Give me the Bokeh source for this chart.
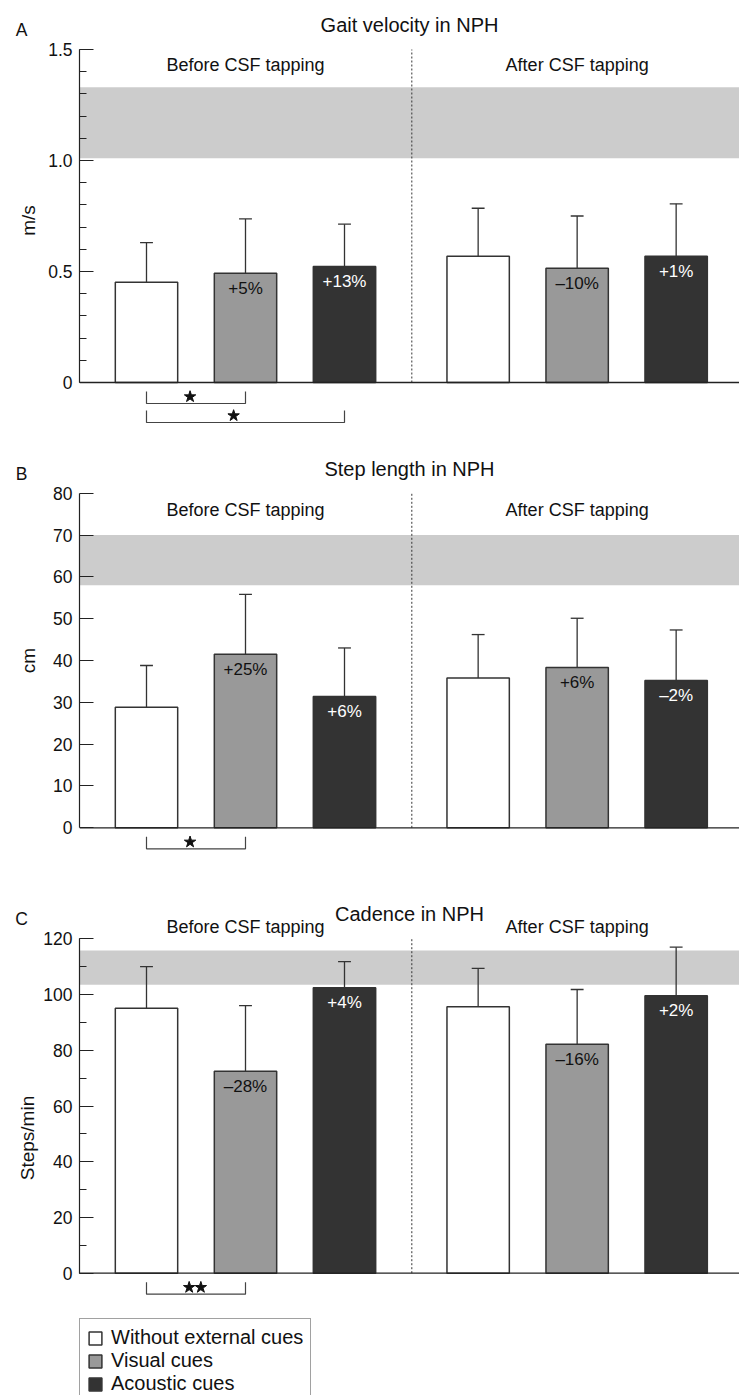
import numpy as np
from bokeh.plotting import figure
from bokeh.layouts import column
from bokeh.models import Range1d, FixedTicker, Label, Legend, LegendItem, ColumnDataSource
from bokeh.embed import file_html
from bokeh.resources import INLINE
from bokeh.core.properties import value

# ---------------- data ----------------
conditions = ["Without external cues", "Visual cues", "Acoustic cues"]
phases = ["Before CSF tapping", "After CSF tapping"]
bar_colors = ["#ffffff", "#999999", "#333333"]
label_colors = ["#111111", "#111111", "#ffffff"]

velocity_mean = [0.452, 0.492, 0.523, 0.569, 0.515, 0.569]
velocity_sd = [0.178, 0.245, 0.190, 0.216, 0.235, 0.236]
velocity_change = ["", "+5%", "+13%", "", "–10%", "+1%"]
velocity_normal = [1.01, 1.33]
velocity_sig = [(0, 1, 1), (0, 2, 1)]

step_mean = [28.8, 41.5, 31.4, 35.8, 38.3, 35.2]
step_sd = [10.0, 14.3, 11.6, 10.4, 11.8, 12.1]
step_change = ["", "+25%", "+6%", "", "+6%", "–2%"]
step_normal = [58, 70]
step_sig = [(0, 1, 1)]

cadence_mean = [95.1, 72.5, 102.4, 95.6, 82.2, 99.6]
cadence_sd = [14.9, 23.5, 9.4, 13.8, 19.6, 17.4]
cadence_change = ["", "–28%", "+4%", "", "–16%", "+2%"]
cadence_normal = [103.5, 115.8]
cadence_sig = [(0, 1, 2)]

# ---------------- layout ----------------
FONT = "Liberation Sans"
W = 739
LEFT = 79
bar_x = [1, 2, 3, 4.35, 5.35, 6.35]
divider_x = 3.68
BAR_W = 0.63
PX_PER_X = 99.0
X0 = 1 - (146 - LEFT) / PX_PER_X
X1 = X0 + (W - LEFT) / PX_PER_X

panels = [
    dict(letter="A", title="Gait velocity in NPH", ylabel="m/s",
         mean=velocity_mean, sd=velocity_sd, change=velocity_change,
         normal=velocity_normal, sig=velocity_sig, ymax=1.5,
         majors=[0, 0.5, 1.0, 1.5], minors=[round(0.1 * i, 2) for i in range(16)],
         overrides={0: "0", 0.5: "0.5", 1: "1.0", 1.5: "1.5"},
         H=440, top=49, zero=382, lab_standoff=6, sub_dy=-15, legend=False),
    dict(letter="B", title="Step length in NPH", ylabel="cm",
         mean=step_mean, sd=step_sd, change=step_change,
         normal=step_normal, sig=step_sig, ymax=80,
         majors=list(range(0, 81, 10)), minors=[],
         overrides={},
         H=440, top=52.7, zero=387.3, lab_standoff=11, sub_dy=-17, legend=False),
    dict(letter="C", title="Cadence in NPH", ylabel="Steps/min",
         mean=cadence_mean, sd=cadence_sd, change=cadence_change,
         normal=cadence_normal, sig=cadence_sig, ymax=120,
         majors=list(range(0, 121, 20)), minors=list(range(0, 121, 10)),
         overrides={},
         H=515, top=58.3, zero=392.7, lab_standoff=2, sub_dy=12, legend=True),
]

figs = []
for cfg in panels:
    H = cfg["H"]
    ymax = cfg["ymax"]
    ppu = (cfg["zero"] - cfg["top"]) / ymax
    y0 = -(H - cfg["zero"]) / ppu
    y1 = cfg["zero"] / ppu
    p = figure(width=W, height=H, x_range=Range1d(X0, X1), y_range=Range1d(y0, y1),
               output_backend="svg", toolbar_location=None, x_axis_location=None,
               min_border_left=LEFT, min_border_right=0, min_border_top=0,
               min_border_bottom=0)
    p.grid.visible = False
    p.outline_line_color = None
    p.background_fill_color = "white"
    p.border_fill_color = "white"

    ax = p.yaxis[0]
    ax.bounds = (0, ymax)
    ax.ticker = FixedTicker(ticks=cfg["majors"], minor_ticks=cfg["minors"])
    if cfg["overrides"]:
        ax.major_label_overrides = cfg["overrides"]
    ax.major_tick_in = 14
    ax.major_tick_out = 0
    ax.minor_tick_in = 7
    ax.minor_tick_out = 0
    ax.axis_line_color = "#222222"
    ax.major_tick_line_color = "#222222"
    ax.minor_tick_line_color = "#222222"
    ax.axis_line_width = 1.2
    ax.major_label_standoff = 7
    ax.major_label_text_font = FONT
    ax.major_label_text_font_size = "17.5px"
    ax.major_label_text_color = "#111111"
    ax.axis_label = cfg["ylabel"]
    ax.axis_label_text_font = FONT
    ax.axis_label_text_font_size = "19px"
    ax.axis_label_text_font_style = "normal"
    ax.axis_label_text_color = "#111111"
    ax.axis_label_standoff = cfg["lab_standoff"]

    # normal range band
    lo, hi = cfg["normal"]
    p.quad(left=[X0], right=[X1], bottom=[lo], top=[hi], fill_color="#cccccc",
           line_color=None)

    # divider
    p.segment(x0=[divider_x], y0=[0], x1=[divider_x], y1=[ymax], line_color="#333333",
              line_width=1, line_dash="2 2")

    mean = cfg["mean"]
    sd = cfg["sd"]
    tops = [m + s for m, s in zip(mean, sd)]
    src = ColumnDataSource(dict(x=bar_x, top=mean, color=bar_colors * 2,
                                err=tops, change=cfg["change"],
                                tcolor=label_colors * 2,
                                ty=[m - 15 / ppu for m in mean],
                                cl=[x - 0.065 for x in bar_x],
                                cr=[x + 0.065 for x in bar_x]))
    # error bars
    p.segment(x0="x", y0="top", x1="x", y1="err", source=src, line_color="#333333",
              line_width=1.3)
    p.segment(x0="cl", y0="err", x1="cr", y1="err", source=src, line_color="#333333",
              line_width=1.3)
    bars = p.vbar(x="x", top="top", bottom=0, width=BAR_W, source=src,
                  fill_color="color", line_color="#333333", line_width=1.5)
    p.text(x="x", y="ty", text="change", source=src, text_color="tcolor",
           text_font=value(FONT), text_font_size="17px", text_align="center",
           text_baseline="middle")

    # baseline
    p.segment(x0=[X0], y0=[0], x1=[X1], y1=[0], line_color="#222222", line_width=1.3)

    # significance brackets
    level_px = [21, 40]
    for k, (a, b, nstar) in enumerate(cfg["sig"]):
        xa, xb = bar_x[a], bar_x[b]
        yl = -level_px[k] / ppu
        yt = yl + 12 / ppu
        p.multi_line(xs=[[xa, xa, xb, xb]], ys=[[yt, yl, yl, yt]], line_color="#444444",
                     line_width=1.2)
        cx = xa + 0.44 * (xb - xa) + 0.05 * (nstar - 1)
        sx = [cx + 0.118 * (i - (nstar - 1) / 2) for i in range(nstar)]
        p.scatter(x=sx, y=[yl + 6.8 / ppu] * nstar, marker="star", size=12,
                  fill_color="#111111", line_color="#111111")

    # titles
    p.text(x=[(X0 + X1) / 2], y=[ymax + 24.5 / ppu], text=[cfg["title"]],
           text_font=value(FONT), text_font_size="20px", text_align="center",
           text_baseline="middle", text_color="#111111")
    p.text(x=[2, 5.35], y=[ymax + cfg["sub_dy"] / ppu] * 2, text=phases,
           text_font=value(FONT), text_font_size="18px", text_align="center",
           text_baseline="middle", text_color="#111111")
    # panel letter: lives in the left side panel so it is not clipped to the frame
    p.add_layout(Label(x=21, y=cfg["top"] - 19.7, x_units="canvas", y_units="canvas",
                       text=cfg["letter"], text_font=FONT, text_font_size="17.5px",
                       text_align="center", text_baseline="middle",
                       text_color="#111111"), "left")

    if cfg["legend"]:
        items = [LegendItem(label=c, renderers=[bars], index=i)
                 for i, c in enumerate(conditions)]
        leg = Legend(items=items, location=(0, -8), margin=0, padding=7, spacing=0,
                     glyph_width=16, glyph_height=16, label_height=22,
                     label_standoff=8, label_text_font=FONT,
                     label_text_font_size="20px", label_text_color="#111111",
                     border_line_color="#444444", border_line_width=1,
                     background_fill_color="white", background_fill_alpha=1)
        p.add_layout(leg)
    figs.append(p)

layout = column(*figs, spacing=0)
open("out.html", "w").write(file_html(layout, INLINE))
